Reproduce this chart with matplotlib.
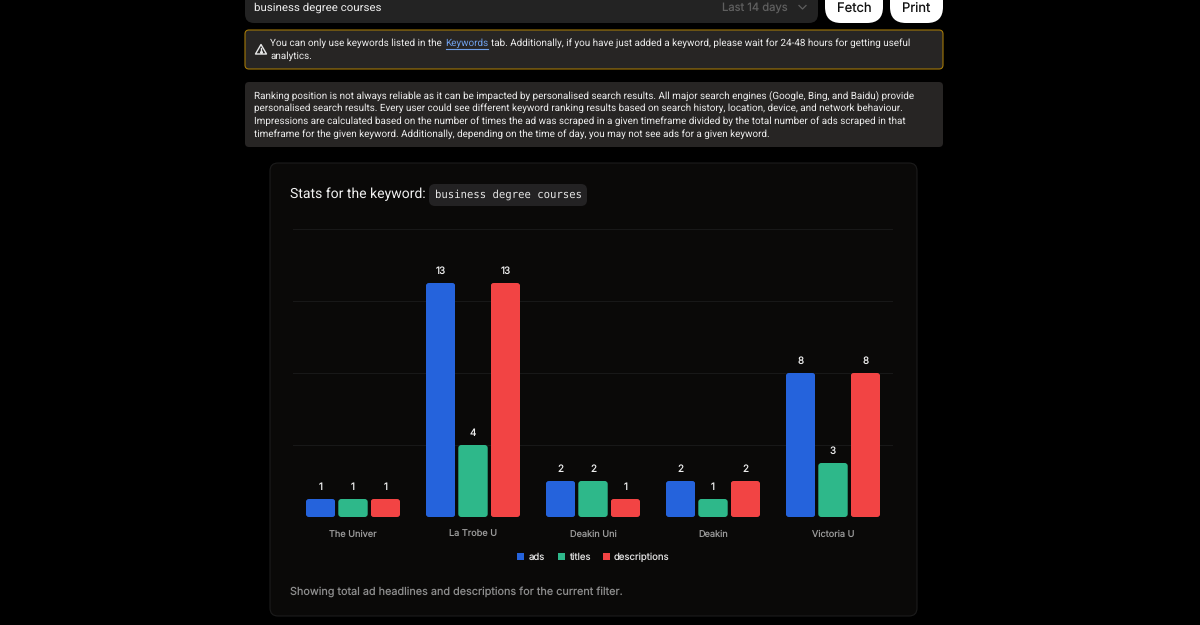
import matplotlib
matplotlib.use("Agg")
import matplotlib.pyplot as plt
from matplotlib.patches import FancyBboxPatch, Rectangle, Polygon
import numpy as np

W, H = 1200, 625
categories = ["The Univer", "La Trobe U", "Deakin Uni", "Deakin", "Victoria U"]
ads = [1, 13, 2, 2, 8]
titles = [1, 4, 2, 1, 3]
descriptions = [1, 13, 1, 2, 8]
series_names = ["ads", "titles", "descriptions"]
series_colors = ["#2563DC", "#2EB88A", "#F24444"]
yticks = [0, 4, 8, 12, 16]

warning_lines = ["You can only use keywords listed in the",
                 "tab. Additionally, if you have just added a keyword, please wait for 24-48 hours for getting useful",
                 "analytics."]
note_lines = [
    "Ranking position is not always reliable as it can be impacted by personalised search results. All major search engines (Google, Bing, and Baidu) provide",
    "personalised search results. Every user could see different keyword ranking results based on search history, location, device, and network behaviour.",
    "Impressions are calculated based on the number of times the ad was scraped in a given timeframe divided by the total number of ads scraped in that",
    "timeframe for the given keyword. Additionally, depending on the time of day, you may not see ads for a given keyword.",
]

plt.rcParams["font.family"] = ["Inter", "DejaVu Sans"]
plt.rcParams["text.hinting"] = "no_hinting"
plt.rcParams["text.hinting_factor"] = 8
fig = plt.figure(figsize=(W / 100, H / 100), dpi=100, facecolor="#000000")

page = fig.add_axes([0, 0, 1, 1])
page.set_xlim(0, W)
page.set_ylim(H, 0)
page.axis("off")


def box(x0, y0, x1, y1, r, fc, ec="none", lw=0.0, z=1):
    page.add_patch(FancyBboxPatch((x0, y0), x1 - x0, y1 - y0,
                                  boxstyle=f"round,pad=0,rounding_size={r}",
                                  fc=fc, ec=ec, lw=lw, zorder=z))


def txt(x, y, s, px, color="#EDEDED", ha="left", **kw):
    return page.text(x, y, s, fontsize=px * 0.72, color=color, ha=ha, va="center", zorder=5, **kw)


BODY = ["Roboto", "DejaVu Sans"]

# top controls
box(245, -20, 818, 23, 9, "#232323")
txt(254, 8, "business degree courses", 11.5, "#EFEFEF", family=BODY)
txt(722, 8, "Last 14 days", 11.2, "#5F5F5F")
page.plot([799, 802.5, 806], [5.5, 9, 5.5], color="#5F5F5F", lw=0.9, zorder=5)
box(825, -20, 883, 23, 16, "#FFFFFF")
box(890, -20, 943, 23, 16, "#FFFFFF")
txt(854, 8, "Fetch", 13, "#111111", ha="center")
txt(916, 8, "Print", 13, "#111111", ha="center")

# warning
box(245, 30, 943, 69, 4, "#272524", ec="#A37808", lw=0.8)
page.add_patch(Polygon([[261, 44.5], [266.5, 54], [255.5, 54]], closed=True, fc="none",
                       ec="#E8E8E8", lw=1.0, joinstyle="round", zorder=5))
page.plot([261, 261], [47.5, 50.5], color="#E8E8E8", lw=1.0, zorder=5)
page.plot([261], [52.3], marker="o", ms=1.2, color="#E8E8E8", zorder=5)
W1 = 9.92
txt(270.5, 43.5, warning_lines[0], W1, family=BODY)
txt(445.5, 43.5, "Keywords", W1, "#6F9FE8", family=BODY)
page.plot([445.5, 488], [48.8, 48.8], color="#6F9FE8", lw=0.8, zorder=5)
txt(491, 43.5, warning_lines[1], W1, family=BODY)
txt(270.5, 56, warning_lines[2], W1, family=BODY)

# note
box(245, 82, 943, 147, 4, "#272524")
for i, line in enumerate(note_lines):
    txt(254.5, 95.8 + i * 12.7, line, W1, family=BODY)

# card
box(270, 163, 917, 616, 8, "#0A0908", ec="#1C1C1C", lw=0.8)
txt(290, 194, "Stats for the keyword:", 14.0, "#F0F0F0", family=BODY)
box(429, 184, 587, 206, 6, "#232223")
page.text(435, 195, "business degree courses", fontsize=7.62, family="DejaVu Sans Mono",
          color="#E6E6E6", va="center", zorder=5)
txt(290, 592, "Showing total ad headlines and descriptions for the current filter.", 10.87, "#8E8E8E")

# chart
ax = fig.add_axes([293 / W, 1 - 517 / H, 600 / W, 288 / H], facecolor="none")
ax.set_xlim(-0.5, 4.5)
ax.set_ylim(0, 16)
x = np.arange(len(categories))
step = 0.27
bw = 0.245
for k, (vals, name, col) in enumerate(zip([ads, titles, descriptions], series_names, series_colors)):
    bars = ax.bar(x + (k - 1) * step, vals, width=bw, color=col, label=name, zorder=3)
    for r, v in zip(bars, vals):
        clip = FancyBboxPatch((r.get_x(), 0), r.get_width(), v,
                              boxstyle="round,pad=0,rounding_size=0.025",
                              mutation_aspect=6.67, transform=ax.transData)
        r.set_clip_path(clip)
        ax.text(r.get_x() + r.get_width() / 2, v + 0.68, str(v), ha="center", va="center",
                color="#EDEDED", fontsize=7.2)

ax.set_yticks(yticks)
ax.set_xticks(x, categories)
ax.tick_params(axis="both", length=0)
ax.tick_params(axis="x", pad=9.5, labelsize=6.6, labelcolor="#9A9A9A")
ax.tick_params(axis="y", labelleft=False)
ax.grid(axis="y", color="#191919", lw=0.7, zorder=0)
ax.set_axisbelow(True)
for s in ax.spines.values():
    s.set_visible(False)

leg = ax.legend(loc="center", bbox_to_anchor=(593.5 / W, 1 - 557 / H), bbox_transform=fig.transFigure,
                ncol=3, frameon=False, fontsize=6.9, labelcolor="#E0E0E0",
                handlelength=0.73, handleheight=0.73, handletextpad=0.42, columnspacing=1.35,
                borderpad=0, borderaxespad=0)

fig.savefig("out.png", dpi=100, facecolor=fig.get_facecolor())
